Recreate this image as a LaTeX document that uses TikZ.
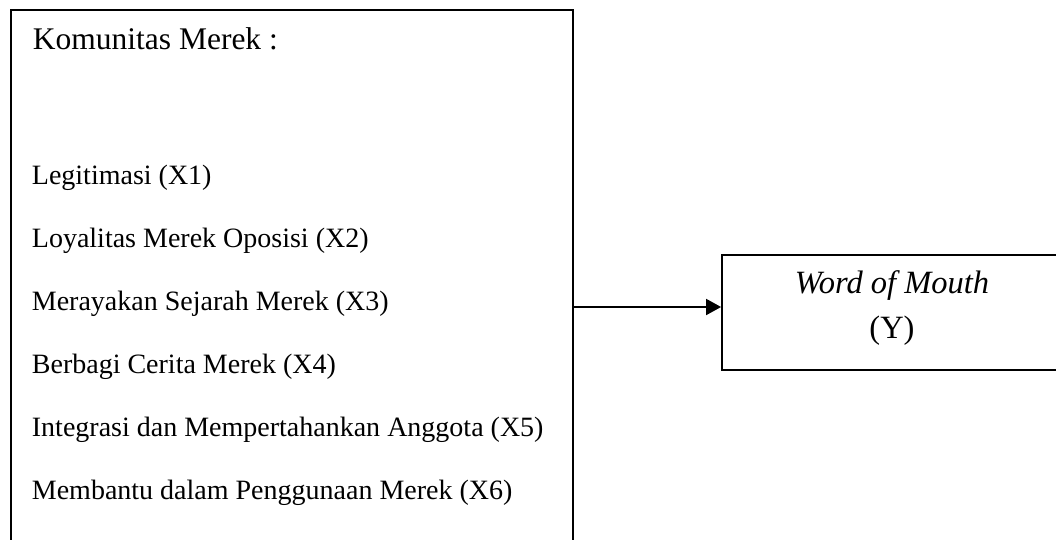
\documentclass[tikz,border=0pt]{standalone}
\usepackage{fontspec}
\setmainfont{Liberation Serif}
\usetikzlibrary{arrows.meta}

\begin{document}
\begin{tikzpicture}[x=1pt, y=-1pt, line width=1.8pt,
    box/.style={draw, rectangle, inner sep=0pt},
    item/.style={anchor=base west, inner sep=0pt, font=\fontsize{28}{33}\selectfont}]

    \useasboundingbox (0,0) rectangle (1056,540);

    % Nodes
    \node[box, minimum width=562, minimum height=560] (komunitas) at (292,290) {};
    \node[anchor=base west, inner sep=0pt, font=\fontsize{31.5}{38}\selectfont] (judul) at (32,50) {Komunitas Merek :};
    \node[item] (x1) at (31,184) {Legitimasi (X1)};
    \node[item] (x2) at (31,247) {Loyalitas Merek Oposisi (X2)};
    \node[item] (x3) at (31,310) {Merayakan Sejarah Merek (X3)};
    \node[item] (x4) at (31,373) {Berbagi Cerita Merek (X4)};
    \node[item] (x5) at (31,436) {Integrasi dan Mempertahankan Anggota (X5)};
    \node[item] (x6) at (31,499) {Membantu dalam Penggunaan Merek (X6)};
    \node[box, minimum width=340, minimum height=115, align=center,
        font=\fontsize{32.5}{45}\selectfont] (wom) at (892,312.5)
        {\textit{Word of Mouth}\\(Y)\rule[-15pt]{0pt}{15pt}};

    % Edges
    \draw[-{Triangle[length=15pt, width=16pt]}] ([yshift=5.5pt]komunitas.east |- wom.west) -- ([yshift=5.5pt]wom.west);

\end{tikzpicture}
\end{document}
